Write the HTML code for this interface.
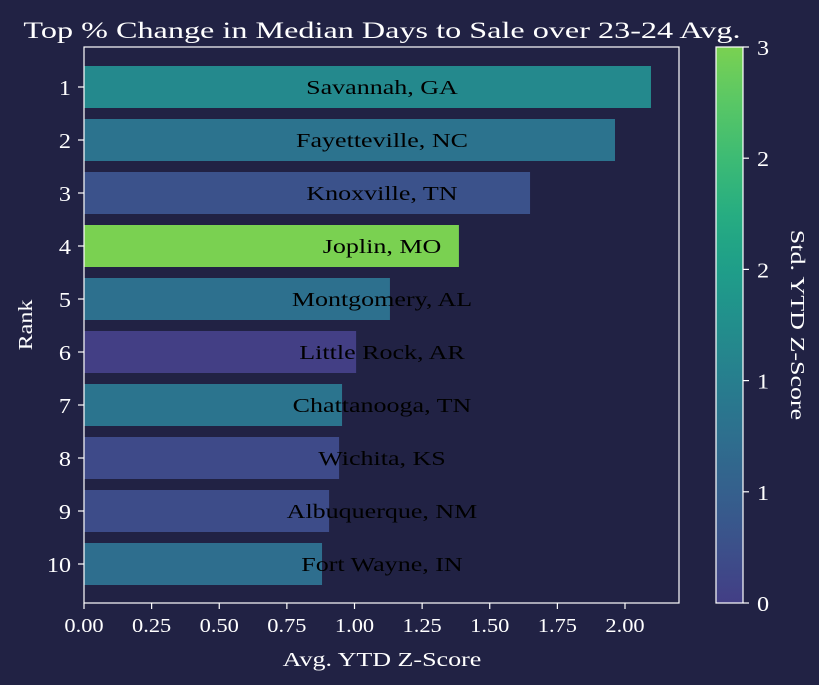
<!DOCTYPE html>
<html><head><meta charset="utf-8"><style>
body{margin:0;background:#212244;}
svg{display:block;font-family:"Liberation Serif",serif;}
</style></head><body>
<svg id="chart" width="819" height="685" xmlns="http://www.w3.org/2000/svg">
<rect width="819" height="685" fill="#212244"/>
<text id="title" x="382" y="38" fill="#fff" font-size="23" text-anchor="middle">Top % Change in Median Days to Sale over 23-24 Avg.</text>
<g id="plot"></g>
<defs><linearGradient id="cbg" x1="0" y1="1" x2="0" y2="0"></linearGradient></defs>
</svg>
<script>
const cities=["Savannah, GA","Fayetteville, NC","Knoxville, TN","Joplin, MO","Montgomery, AL","Little Rock, AR","Chattanooga, TN","Wichita, KS","Albuquerque, NM","Fort Wayne, IN"];
const ranks=["1","2","3","4","5","6","7","8","9","10"];
const avgZ=[2.096,1.963,1.649,1.386,1.131,1.006,0.954,0.943,0.906,0.880];
const stdZ=[1.4,0.98,0.34,3.0,0.92,0.02,1.0,0.2,0.24,0.88];
const xTicks=[0,0.25,0.5,0.75,1,1.25,1.5,1.75,2];
const cbTicks=[0,0.6,1.2,1.8,2.4,3];
const cbLabels=["0","1","1","2","2","3"];

const NS="http://www.w3.org/2000/svg";
const g=document.getElementById('plot');
function el(t,a,p){const e=document.createElementNS(NS,t);for(const k in a)e.setAttribute(k,a[k]);(p||g).appendChild(e);return e;}
function stretch(e,f){try{const w=e.getComputedTextLength();if(w>0){e.setAttribute('textLength',(w*f).toFixed(1));e.setAttribute('lengthAdjust','spacingAndGlyphs');}}catch(err){}}
const L=84,R=679,T=47,B=603;
const x=v=>L+v*270.5;
const y=i=>87+i*53.0;
const BH=42;
const vir=["#472d7b","#433e85","#3b528b","#355f8d","#2c728e","#287c8e","#21918c","#1fa088","#28ae80","#3fbc73","#5ec962","#7ad151"];
function hex(h){return [1,3,5].map(i=>parseInt(h.substr(i,2),16));}
const t0=0.18,t1=0.80;
const vt=[0.15,0.18,0.25,0.3,0.38,0.42,0.5,0.56,0.62,0.68,0.75,0.80];
function cmap(z){const t=t0+(z/3)*(t1-t0);let i=0;while(i<vt.length-2&&t>vt[i+1])i++;
 const f=Math.max(0,Math.min(1,(t-vt[i])/(vt[i+1]-vt[i])));const a=hex(vir[i]),b=hex(vir[i+1]);
 return "rgb("+a.map((v,k)=>Math.round(v+(b[k]-v)*f)).join(",")+")";}

stretch(document.getElementById('title'),1.4);
cities.forEach((c,i)=>{
 const r=el('rect',{x:L,y:y(i)-BH/2,width:x(avgZ[i])-L,height:BH,fill:cmap(stdZ[i])});
 
 
 const t=el('text',{x:382,y:y(i)+7,'font-size':20,'text-anchor':'middle',fill:'#000'});
 t.textContent=c;
 
 
 stretch(t,1.3);
 const tk=el('line',{x1:L-6,x2:L,y1:y(i),y2:y(i),stroke:'#fff','stroke-width':1.2});
 
 
 const tl=el('text',{x:L-13,y:y(i)+8,'font-size':21,'text-anchor':'end',fill:'#fff'});
 tl.textContent=ranks[i];
 
 
 stretch(tl,1.15);
});
xTicks.forEach(v=>{
 const tk=el('line',{x1:x(v),x2:x(v),y1:B,y2:B+6,stroke:'#fff','stroke-width':1.2});
 
 
 const tl=el('text',{x:x(v),y:B+29,'font-size':20,'text-anchor':'middle',fill:'#fff'});
 tl.textContent=v.toFixed(2);
 
 
 stretch(tl,1.12);
});
const fr=el('rect',{x:L,y:T,width:R-L,height:B-T,fill:'none',stroke:'#fff','stroke-width':1.2});


const xt=el('text',{x:382,y:666,'font-size':20,'text-anchor':'middle',fill:'#fff'});
xt.textContent="Avg. YTD Z-Score";


stretch(xt,1.3);
const yt=el('text',{x:32,y:325,'font-size':20,'text-anchor':'middle',fill:'#fff',transform:'rotate(-90 32 325)'});
yt.textContent="Rank";


stretch(yt,1.2);
// colorbar
const grad=document.getElementById('cbg');
for(let k=0;k<=20;k++){el('stop',{offset:(k/20),'stop-color':cmap(3*k/20)},grad);}
const CL=716,CR=743;
const cy=v=>B-(v/3)*(B-T);
const cb=el('rect',{x:CL,y:T,width:CR-CL,height:B-T,fill:'url(#cbg)',stroke:'#fff','stroke-width':1.2});


cbTicks.forEach((v,i)=>{
 const tk=el('line',{x1:CR,x2:CR+6,y1:cy(v),y2:cy(v),stroke:'#fff','stroke-width':1.2});
 
 
 const tl=el('text',{x:CR+14,y:cy(v)+8,'font-size':21,fill:'#fff'});
 tl.textContent=cbLabels[i];
 
 
 stretch(tl,1.15);
});
const ct=el('text',{x:791,y:325,'font-size':20,'text-anchor':'middle',fill:'#fff',transform:'rotate(90 791 325)'});
ct.textContent="Std. YTD Z-Score";


stretch(ct,1.3);
</script>
</body></html>
